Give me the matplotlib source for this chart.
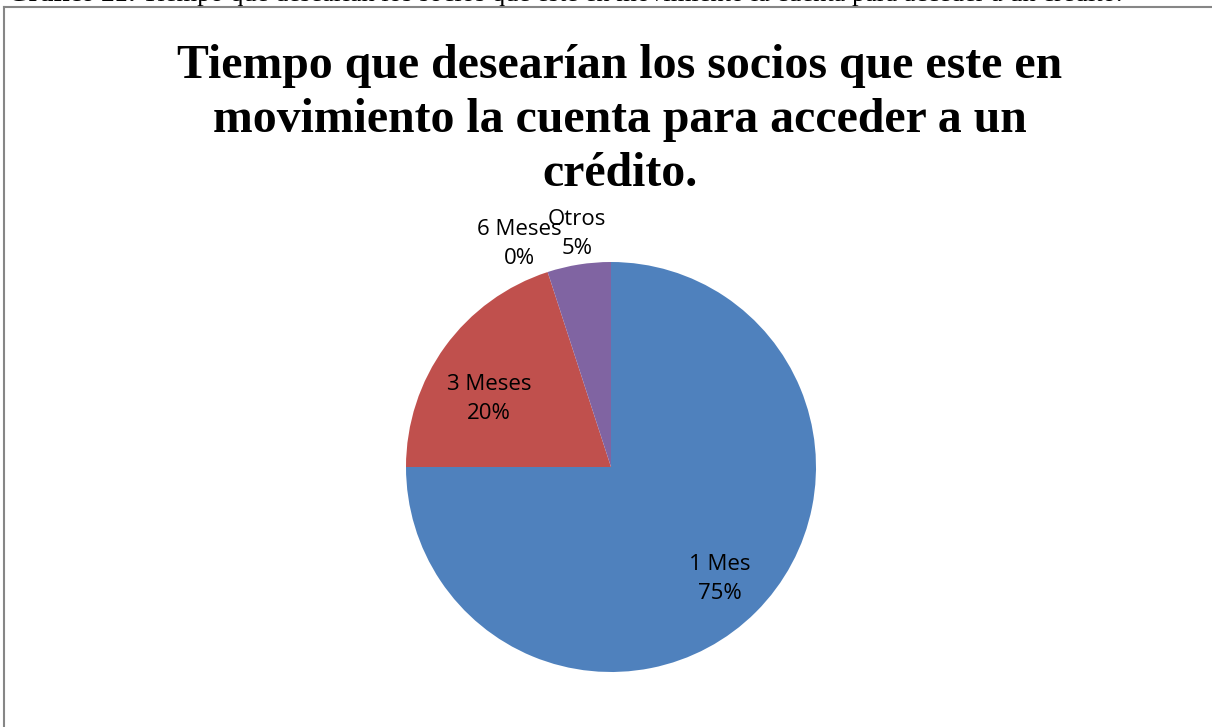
import matplotlib
matplotlib.use("Agg")
import matplotlib.pyplot as plt
from matplotlib.lines import Line2D
import numpy as np

categories = ["1 Mes", "3 Meses", "6 Meses", "Otros"]
values = [75, 20, 0, 5]
pct_labels = ["75%", "20%", "0%", "5%"]
colors = ["#4F81BD", "#C0504D", "#9BBB59", "#8064A2"]
title = "Tiempo que desearían los socios que este en\nmovimiento la cuenta para acceder a un\ncrédito."
caption_bold = "Gráfico 21:"
caption_rest = " Tiempo que desearían los socios que este en movimiento la cuenta para acceder a un crédito."

# label placement (radius fraction, angle in degrees) per slice
label_pos = [(0.762, -45.8), (0.681, 150.9), (1.177, 112.4), (1.149, 98.3)]

W, H = 1212, 727
fig = plt.figure(figsize=(W / 100, H / 100), dpi=100)
fig.patch.set_facecolor("white")

# frame
fc = "#868686"
fig.add_artist(Line2D([4 / W, 4 / W], [0, 1 - 7 / H], color=fc, lw=1.5, transform=fig.transFigure))
fig.add_artist(Line2D([4 / W, 1], [1 - 7 / H, 1 - 7 / H], color=fc, lw=1.5, transform=fig.transFigure))

# caption (cut off at top, as in the source)
t1 = fig.text(8 / W, 1 - 1 / H, caption_bold, family="Liberation Serif", weight="bold",
              fontsize=19, va="baseline", ha="left")
fig.canvas.draw()
bb = t1.get_window_extent()
fig.text(bb.x1 / W, 1 - 1 / H, caption_rest, family="Liberation Serif",
         fontsize=19, va="baseline", ha="left")

# title
fig.text(620 / W, 1 - 120 / H, title, family="Liberation Serif", weight="bold",
         fontsize=34.4, ha="center", va="center", linespacing=1.3)

ax = fig.add_axes([406 / W, 55 / H, 410 / W, 410 / H])
wedges, _ = ax.pie(values, colors=colors, startangle=90, counterclock=False,
                   radius=1, wedgeprops=dict(linewidth=0))
ax.set_xlim(-1, 1)
ax.set_ylim(-1, 1)
ax.set_aspect("equal")
ax.axis("off")

for cat, pct, (r, ang) in zip(categories, pct_labels, label_pos):
    a = np.deg2rad(ang)
    ax.text(r * np.cos(a), r * np.sin(a), f"{cat}\n{pct}", ha="center", va="center",
            fontsize=16, family="Open Sans", linespacing=1.5, clip_on=False, color="#000000")

fig.savefig("out.png", dpi=100)
